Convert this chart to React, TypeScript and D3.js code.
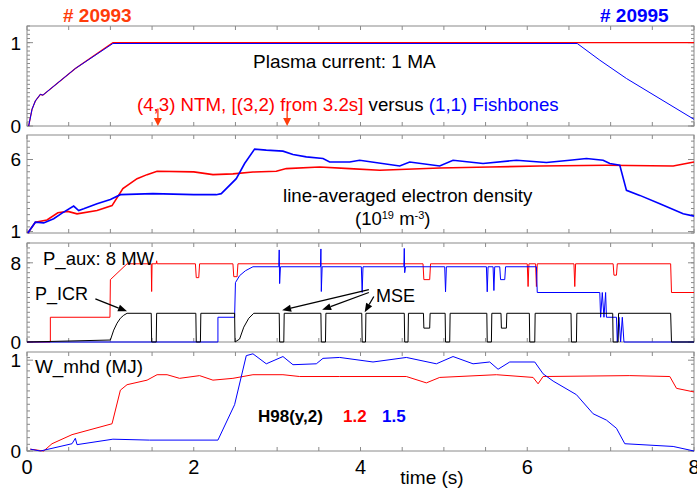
import React from 'react';
import * as d3 from 'd3';

// ---- x axis ----
const timeTicks = [0, 2, 4, 6, 8];

// ---- plasma current (MA) ----
const ipRedT = [0.02, 0.06, 0.1, 0.16, 0.19, 0.58, 1.03, 8.0];
const ipRedV = [0, 0.2, 0.3, 0.38, 0.37, 0.69, 1.0, 1.0];
const ipBlueT = [0.02, 0.06, 0.1, 0.16, 0.19, 0.58, 1.03, 6.6, 6.87, 7.19, 8.0];
const ipBlueV = [0, 0.2, 0.3, 0.38, 0.37, 0.69, 0.99, 0.99, 0.79, 0.57, 0.08];

// ---- line-averaged density (1e19 m^-3) ----
const neRedT = [0.01, 0.1, 0.24, 0.37, 0.49, 0.6, 0.84, 1.02, 1.15, 1.32, 1.44, 1.56, 2.0, 2.23, 2.47, 2.71, 2.99, 3.11, 3.51, 3.87, 4.23, 4.95, 5.55, 6.15, 6.95, 7.75, 8.0];
const neRedV = [0.9, 1.65, 1.8, 2.3, 2.4, 2.23, 2.46, 2.8, 3.98, 4.67, 4.95, 5.18, 5.14, 4.95, 5.0, 5.13, 5.18, 5.37, 5.48, 5.37, 5.25, 5.41, 5.48, 5.55, 5.6, 5.55, 5.83];
const neBlueT = [0.01, 0.1, 0.2, 0.32, 0.42, 0.56, 0.62, 0.68, 0.84, 1.0, 1.12, 1.51, 2.0, 2.27, 2.33, 2.51, 2.61, 2.73, 2.87, 3.07, 3.19, 3.35, 3.55, 3.63, 3.87, 3.99, 4.47, 4.59, 4.95, 5.11, 5.47, 5.87, 6.23, 6.51, 6.71, 6.91, 6.99, 7.11, 7.19, 7.35, 7.59, 7.87, 8.0];
const neBlueV = [0.9, 1.65, 1.6, 1.89, 2.28, 2.77, 2.46, 2.58, 2.93, 3.23, 3.56, 3.63, 3.56, 3.56, 3.63, 4.67, 5.72, 6.72, 6.65, 6.58, 6.35, 6.18, 6.07, 5.83, 5.83, 5.95, 5.55, 5.83, 5.55, 5.95, 5.72, 5.95, 5.79, 5.95, 6.07, 5.95, 5.72, 5.6, 3.86, 3.51, 2.93, 2.23, 2.07];

// ---- heating power (MW) ----
const pRedT = [0, 0.28, 0.28, 0.995, 1.0, 1.2, 1.49, 1.495, 1.5, 1.55, 1.555, 1.56, 2.02, 2.03, 2.06, 2.07, 2.47, 2.48, 2.52, 2.53, 4.75, 4.76, 4.83, 4.84, 6.0, 6.01, 6.02, 6.1, 6.11, 6.12, 6.56, 6.57, 6.58, 7.03, 7.04, 7.07, 7.08, 7.72, 7.73, 8.0];
const pRedV = [0, 0, 2.5, 2.5, 6.3, 7.9, 7.9, 5.1, 7.9, 7.9, 8.2, 7.9, 7.9, 6.5, 6.5, 7.9, 7.9, 6.6, 6.6, 7.9, 7.9, 6.3, 6.3, 7.9, 7.9, 5.6, 7.9, 7.9, 5.6, 7.9, 7.9, 5.6, 7.9, 7.9, 6.75, 6.75, 7.9, 7.9, 5.0, 5.0];
const pBlueT = [0, 2.29, 2.29, 2.49, 2.5, 2.55, 2.62, 2.71, 3.02, 3.025, 3.03, 3.04, 3.52, 3.525, 3.53, 3.54, 4.01, 4.02, 4.03, 4.52, 4.525, 4.53, 4.54, 5.01, 5.02, 5.03, 5.51, 5.52, 5.53, 5.59, 5.6, 5.61, 5.67, 5.68, 5.73, 5.74, 6.11, 6.12, 6.87, 6.88, 6.9, 6.92, 6.94, 6.95, 7.07, 7.08, 7.1, 7.12, 7.14, 7.16, 8.0];
const pBlueV = [0, 0, 2.5, 2.5, 6.0, 6.7, 7.2, 7.6, 7.6, 9.3, 5.9, 7.6, 7.6, 9.4, 5.1, 7.6, 7.6, 5.0, 7.6, 7.6, 9.45, 7.0, 7.6, 7.6, 5.07, 7.6, 7.6, 5.07, 7.6, 7.6, 5.2, 7.6, 7.6, 6.3, 6.3, 7.6, 7.6, 5.0, 5.0, 2.5, 5.0, 2.5, 5.0, 2.5, 2.5, 0, 2.5, 0, 2.5, 0, 0];
const icrT = [0, 1.0, 1.04, 1.08, 1.12, 1.16, 1.2, 1.49, 1.495, 1.55, 1.555, 2.025, 2.03, 2.08, 2.085, 2.49, 2.495, 2.55, 2.6, 2.66, 2.72, 3.025, 3.03, 3.08, 3.085, 3.525, 3.53, 3.58, 3.585, 4.015, 4.02, 4.06, 4.065, 4.525, 4.53, 4.57, 4.575, 4.755, 4.76, 4.83, 4.835, 5.015, 5.02, 5.07, 5.075, 5.515, 5.52, 5.57, 5.575, 5.685, 5.69, 5.75, 5.755, 6.025, 6.03, 6.09, 6.095, 6.525, 6.53, 6.59, 6.595, 7.025, 7.03, 7.09, 7.095, 7.72, 7.73, 8.0];
const icrV = [0, 0.2, 1.2, 1.9, 2.4, 2.7, 2.9, 2.9, 0, 0, 2.9, 2.9, 0, 0, 2.9, 2.9, 0, 0.3, 1.5, 2.4, 2.9, 2.9, 0, 0, 2.9, 2.9, 0, 0, 2.9, 2.9, 0, 0, 2.9, 2.9, 0, 0, 2.9, 2.9, 1.4, 1.4, 2.9, 2.9, 0, 0, 2.9, 2.9, 0, 0, 2.9, 2.9, 1.4, 1.4, 2.9, 2.9, 0, 0, 2.9, 2.9, 0, 0, 2.9, 2.9, 0, 0, 2.9, 2.9, 0, 0];

// ---- stored energy (MJ) ----
const wRedT = [0.04, 0.2, 0.3, 0.54, 1.02, 1.12, 1.2, 1.44, 1.56, 1.68, 1.83, 2.07, 2.23, 2.47, 2.71, 3.07, 3.27, 3.75, 4.55, 4.79, 4.95, 5.63, 6.07, 6.13, 6.19, 7.23, 7.71, 7.79, 8.0];
const wRedV = [0.02, 0, 0.08, 0.18, 0.3, 0.67, 0.73, 0.78, 0.84, 0.84, 0.8, 0.83, 0.78, 0.8, 0.84, 0.84, 0.82, 0.82, 0.82, 0.75, 0.81, 0.84, 0.81, 0.74, 0.82, 0.83, 0.82, 0.69, 0.65];
const wBlueT = [0.04, 0.16, 0.54, 0.58, 0.6, 1.03, 1.47, 2.29, 2.49, 2.63, 2.71, 2.87, 3.07, 3.19, 3.47, 3.55, 3.75, 4.15, 4.55, 4.91, 5.11, 5.35, 5.55, 5.65, 5.79, 6.09, 6.19, 6.31, 6.59, 6.79, 6.95, 7.07, 7.17, 7.75, 8.0];
const wBlueV = [0.02, 0, 0.08, 0.14, 0.07, 0.13, 0.12, 0.12, 0.51, 1.05, 1.07, 0.96, 1.04, 0.95, 0.96, 1.02, 1.03, 0.98, 1.03, 0.96, 1.04, 0.96, 0.98, 0.9, 0.98, 0.98, 0.85, 0.77, 0.62, 0.41, 0.34, 0.25, 0.08, 0.05, 0];

// mode markers (s) on the current panel
const ntmArrowT = [1.57, 3.12];

const RED = '#ff0000';
const BLUE = '#0000ff';
const ORANGE = '#ff3c0a';
const AXIS = '#8a8a8a';
const FONT = '"Liberation Sans", Arial, Helvetica, sans-serif';

export default function App() {
  const w = 697;
  const h = 490;
  const x = d3.scaleLinear().domain([0, 8]).range([27, 694]);
  const yIp = d3.scaleLinear().domain([0, 1.2]).range([126, 26]);
  const yNe = d3.scaleLinear().domain([0.9, 7.7]).range([233, 135]);
  const yP = d3.scaleLinear().domain([0, 10]).range([342, 243]);
  const yW = d3.scaleLinear().domain([0, 1.09]).range([451, 352]);

  const path = (ts: number[], vs: number[], y: any) =>
    d3.line<number>().x((d, i) => x(ts[i])).y((d) => y(d))(vs) || '';

  const panels = [
    { y: yIp, minor: d3.range(0, 1.2001, 0.05), major: [0, 1] },
    { y: yNe, minor: d3.range(0.9, 7.7, 0.425), major: [1, 6] },
    { y: yP, minor: d3.range(0, 10.001, 0.5), major: [0, 8] },
    { y: yW, minor: d3.range(0, 1.09, 0.0735), major: [0, 1] },
  ];
  const xMinor = d3.range(0, 8.001, 0.5);
  const [x0, x1] = x.range();

  // arrowhead helper: line from a to b with filled head at b
  const arrow = (ax: number, ay: number, bx: number, by: number, color: string, key: string, hl = 9, hw = 3.5) => {
    const ang = Math.atan2(by - ay, bx - ax);
    const cx = bx - hl * Math.cos(ang);
    const cy = by - hl * Math.sin(ang);
    const px = -Math.sin(ang) * hw;
    const py = Math.cos(ang) * hw;
    return (
      <g key={key}>
        <line x1={ax} y1={ay} x2={cx} y2={cy} stroke={color} strokeWidth={1.3} />
        <polygon points={`${bx},${by} ${cx + px},${cy + py} ${cx - px},${cy - py}`} fill={color} />
      </g>
    );
  };

  return (
    <div>
      <style>{`body{margin:0}`}</style>
      <svg width={w} height={h} style={{ display: 'block', background: '#fff', fontFamily: FONT }}>
        {/* frames and ticks */}
        {panels.map((p, k) => {
          const [yb, yt] = p.y.range();
          return (
            <g key={'ax' + k} stroke={AXIS} strokeWidth={1} fill="none">
              <rect x={x0} y={yt} width={x1 - x0} height={yb - yt} />
              {xMinor.map((t) => (
                <g key={'xt' + t}>
                  <line x1={x(t)} x2={x(t)} y1={yb} y2={yb - 4} />
                  <line x1={x(t)} x2={x(t)} y1={yt} y2={yt + 4} />
                </g>
              ))}
              {p.minor.map((v, i) => (
                <g key={'yt' + i}>
                  <line x1={x0} x2={x0 + 3} y1={p.y(v)} y2={p.y(v)} />
                  <line x1={x1} x2={x1 - 3} y1={p.y(v)} y2={p.y(v)} />
                </g>
              ))}
              {p.major.map((v) => (
                <g key={'ym' + v}>
                  <line x1={x0} x2={x0 + 6} y1={p.y(v)} y2={p.y(v)} />
                  <line x1={x1} x2={x1 - 6} y1={p.y(v)} y2={p.y(v)} />
                </g>
              ))}
            </g>
          );
        })}
        {panels.map((p, k) =>
          p.major.map((v) => (
            <text key={'yl' + k + v} x={21} y={p.y(v)} dy="0.36em" textAnchor="end" fontSize={19} fill="#000">
              {v}
            </text>
          ))
        )}
        {timeTicks.map((t) => (
          <text key={'xl' + t} x={x(t)} y={474} textAnchor="middle" fontSize={20} fill="#000">
            {t}
          </text>
        ))}
        <text x={432} y={484} textAnchor="middle" fontSize={19} fill="#000">time (s)</text>

        {/* panel 1: plasma current */}
        <path d={path(ipRedT, ipRedV, yIp)} fill="none" stroke={RED} strokeWidth={1.2} />
        <path d={path(ipBlueT, ipBlueV, yIp)} fill="none" stroke={BLUE} strokeWidth={1} />
        {ntmArrowT.map((t, i) => arrow(x(t), yIp(0.21), x(t), yIp(0), ORANGE, 'ntm' + i, 8, 4))}

        {/* panel 2: density */}
        <path d={path(neRedT, neRedV, yNe)} fill="none" stroke={RED} strokeWidth={1.6} />
        <path d={path(neBlueT, neBlueV, yNe)} fill="none" stroke={BLUE} strokeWidth={1.6} />

        {/* panel 3: power */}
        <path d={path(pRedT, pRedV, yP)} fill="none" stroke={RED} strokeWidth={1} />
        <path d={path(pBlueT, pBlueV, yP)} fill="none" stroke={BLUE} strokeWidth={1} />
        <path d={path(icrT, icrV, yP)} fill="none" stroke="#000" strokeWidth={1} />
        {arrow(x(0.82), yP(4.35), x(1.2), yP(3.1), '#000', 'icr')}
        {arrow(x(4.1), yP(5.3), x(3.06), yP(3.2), '#000', 'mse1')}
        {arrow(x(4.1), yP(5.0), x(3.54), yP(3.25), '#000', 'mse2')}
        {arrow(x(4.16), yP(4.6), x(4.05), yP(3.0), '#000', 'mse3')}

        {/* panel 4: stored energy */}
        <path d={path(wRedT, wRedV, yW)} fill="none" stroke={RED} strokeWidth={1} />
        <path d={path(wBlueT, wBlueV, yW)} fill="none" stroke={BLUE} strokeWidth={1} />

        {/* annotations */}
        <text x={63} y={22} fontSize={19} fontWeight="bold" fill={ORANGE}># 20993</text>
        <text x={600} y={22} fontSize={19} fontWeight="bold" fill={BLUE}># 20995</text>
        <text x={253} y={68} fontSize={19} fill="#000">Plasma current: 1 MA</text>
        <text x={137} y={111} fontSize={18.7}>
          <tspan fill={RED}>(4,3) NTM, [(3,2) from 3.2s]</tspan>
          <tspan fill="#000"> versus </tspan>
          <tspan fill={BLUE}>(1,1) Fishbones</tspan>
        </text>
        <text x={283} y={202} fontSize={18.7} fill="#000">line-averaged electron density</text>
        <text x={355} y={225} fontSize={18.5} fill="#000">
          (10<tspan fontSize={11} dy={-6}>19</tspan>
          <tspan dy={6}> m</tspan>
          <tspan fontSize={11} dy={-6}>-3</tspan>
          <tspan dy={6}>)</tspan>
        </text>
        <text x={43} y={265} fontSize={18.5} fill="#000">P_aux: 8 MW</text>
        <text x={35} y={300} fontSize={18} fill="#000">P_ICR</text>
        <text x={376} y={302} fontSize={18} fill="#000">MSE</text>
        <text x={35} y={373} fontSize={18} fill="#000" textLength={108} lengthAdjust="spacingAndGlyphs">W_mhd (MJ)</text>
        <text x={258} y={422} fontSize={17} fontWeight="bold" fill="#000">H98(y,2)</text>
        <text x={343} y={422} fontSize={17} fontWeight="bold" fill={RED}>1.2</text>
        <text x={382} y={422} fontSize={17} fontWeight="bold" fill={BLUE}>1.5</text>
      </svg>
    </div>
  );
}
